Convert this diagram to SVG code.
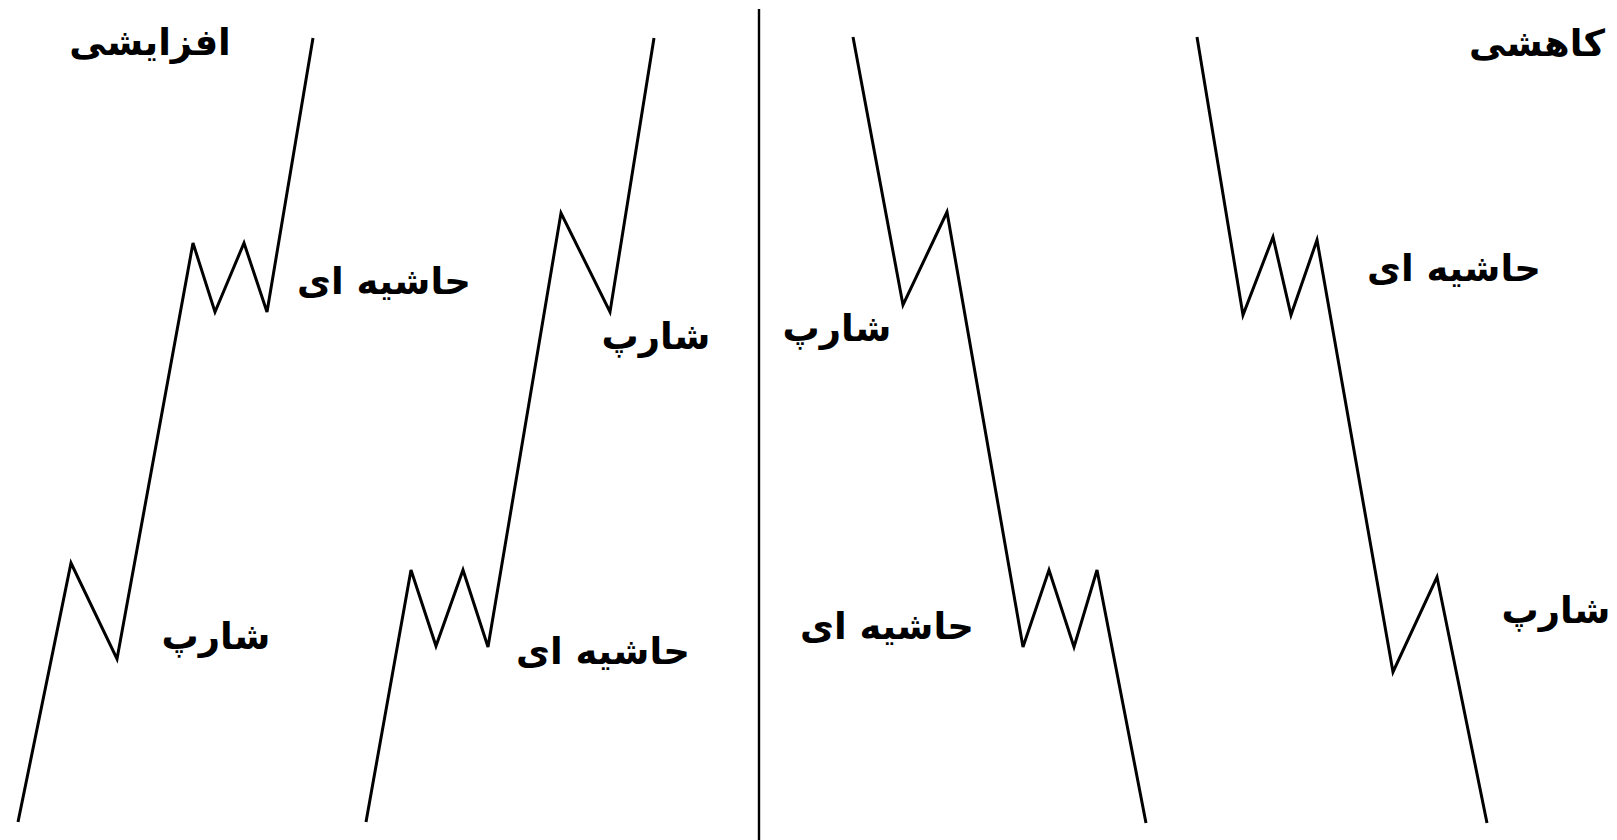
<svg xmlns="http://www.w3.org/2000/svg" width="1617" height="840" viewBox="0 0 1617 840">
<style>
.ln{fill:none;stroke:#000;stroke-width:3;stroke-linejoin:miter;stroke-linecap:butt}
.t{font-family:"DejaVu Sans",sans-serif;font-size:37px;font-weight:bold;fill:#000;text-anchor:middle}
</style>
<rect width="1617" height="840" fill="#fff"/>
<g id="divider"><line x1="759" y1="9" x2="759" y2="840" stroke="#000" stroke-width="2.4"/></g>
<g id="connectors">
<polyline class="ln" points="18,822 71,563 117,659 193,243 215,312 244,243 267,312 313,38"/>
<polyline class="ln" points="366,822 411,570 436,646 463,570 488,647 561,213 610,312 654,38"/>
<polyline class="ln" points="853,37 903,305 947,212 1023,647 1049,570 1074,647 1097,570 1146,823"/>
<polyline class="ln" points="1197,37 1243,315 1273,237 1291,315 1317,240 1393,672 1437,577 1487,823"/>
</g>
<g id="title-up"><text class="t" x="150" y="55">افزایشی</text></g>
<g id="label1-margin"><text class="t" x="384" y="294">حاشیه ای</text></g>
<g id="label1-sharp"><text class="t" x="216" y="649">شارپ</text></g>
<g id="label2-sharp"><text class="t" x="656" y="349">شارپ</text></g>
<g id="label2-margin"><text class="t" x="603" y="664">حاشیه ای</text></g>
<g id="title-down"><text class="t" x="1537" y="56">کاهشی</text></g>
<g id="label3-sharp"><text class="t" x="837" y="341">شارپ</text></g>
<g id="label3-margin"><text class="t" x="887" y="639">حاشیه ای</text></g>
<g id="label4-margin"><text class="t" x="1454" y="281">حاشیه ای</text></g>
<g id="label4-sharp"><text class="t" x="1556" y="623">شارپ</text></g>
</svg>
